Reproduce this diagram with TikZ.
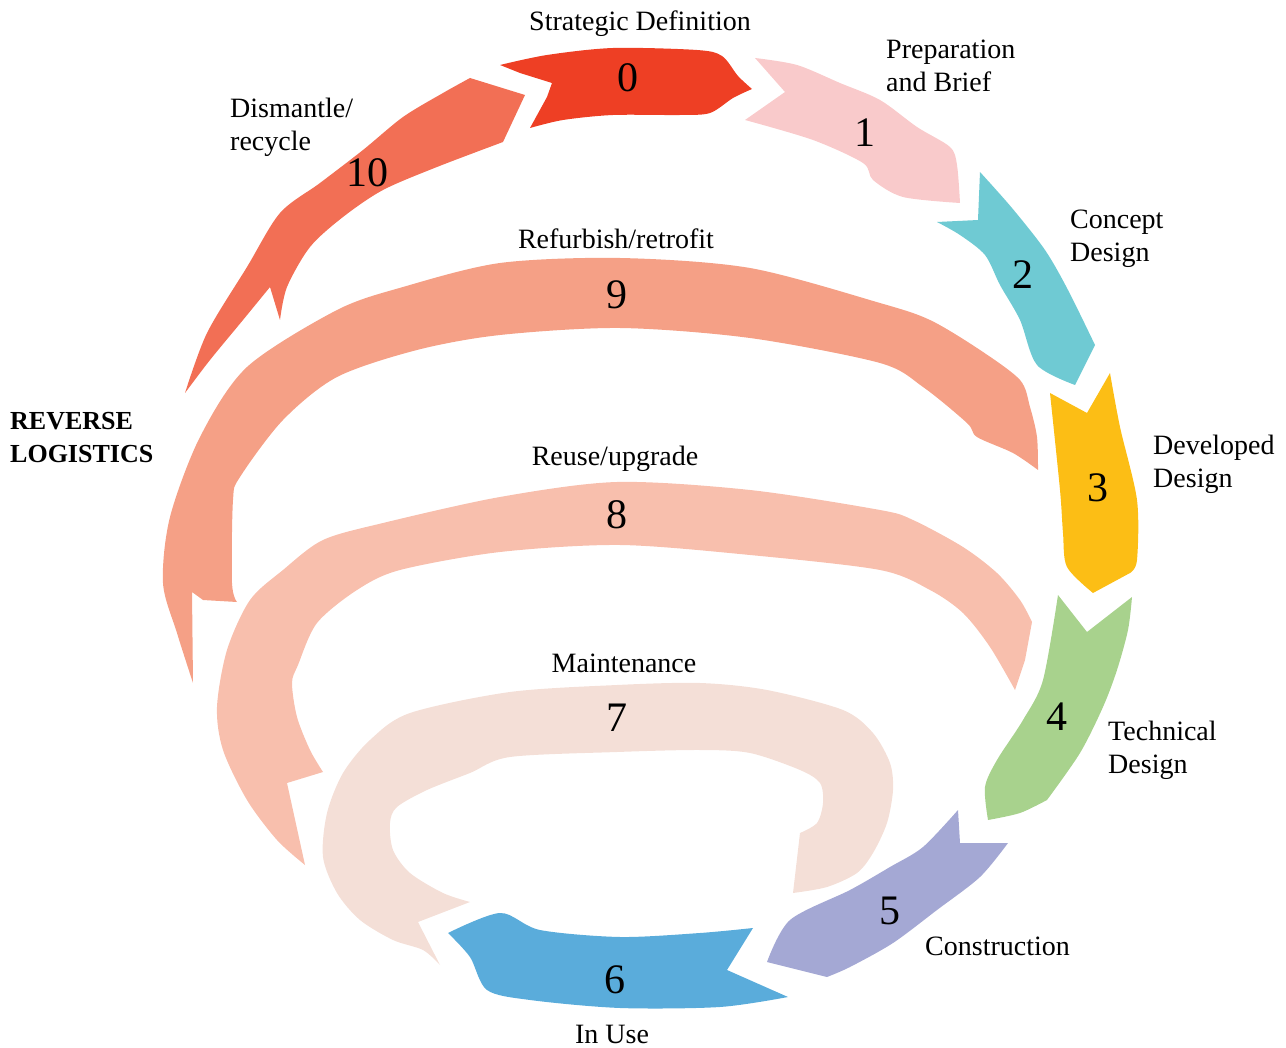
\documentclass[tikz,border=0pt]{standalone}
\usepackage{fontspec}
\setmainfont{Liberation Serif}
\definecolor{c0}{HTML}{EE3F24}
\definecolor{c1}{HTML}{F9CACB}
\definecolor{c2}{HTML}{6FCAD3}
\definecolor{c3}{HTML}{FCBE15}
\definecolor{c4}{HTML}{A8D28D}
\definecolor{c5}{HTML}{A4A8D4}
\definecolor{c6}{HTML}{5AACDB}
\definecolor{c7}{HTML}{F4DFD7}
\definecolor{c8}{HTML}{F8BFAD}
\definecolor{c9}{HTML}{F5A086}
\definecolor{c10}{HTML}{F26F55}
\begin{document}
\begin{tikzpicture}[x=1pt,y=-1pt,
  lbl/.style={font=\fontsize{28}{33}\selectfont, inner sep=0pt, align=left},
  num/.style={font=\fontsize{42}{42}\selectfont, inner sep=0pt},
  head/.style={font=\fontsize{26}{33}\selectfont\bfseries, inner sep=0pt, align=left},
  edge/.style={smooth, tension=0.5}]
\useasboundingbox (0,0) rectangle (1286,1048);

% stage 0: strategic definition
\fill[c0] plot[edge] coordinates {(500,65) (547,55) (613,48) (697,50) (722,56) (738,76) (752,89)}
  -- plot[edge] coordinates {(752,89) (733,98) (710,113) (680,115) (613,115) (563,120) (530,128)}
  -- (547,97) -- (552,83) -- (520,73) -- cycle;
% stage 1: preparation and brief
\fill[c1] plot[edge] coordinates {(755,58) (797,65) (840,83) (880,100) (917,127) (950,147) (957,165) (960,203)}
  -- plot[edge] coordinates {(960,203) (903,197) (873,180) (863,163) (813,140) (745,120)}
  -- (785,92) -- cycle;
% stage 2: concept design
\fill[c2] plot[edge] coordinates {(980,172) (1012,208) (1045,250) (1068,290) (1095,345)}
  -- (1075,385)
  -- plot[edge] coordinates {(1075,385) (1037,365) (1020,320) (1000,285) (985,255) (960,235) (937,222)}
  -- (978,220) -- cycle;
% stage 3: developed design
\fill[c3] (1050,393) -- (1087,413) -- (1110,373)
  -- plot[edge] coordinates {(1110,373) (1120,427) (1137,500) (1137,560) (1130,573)}
  -- (1093,593)
  -- plot[edge] coordinates {(1093,593) (1067,567) (1063,533) (1060,490) (1050,393)} -- cycle;
% stage 4: technical design
\fill[c4] (1058,595) -- (1087,632) -- (1132,597)
  -- plot[edge] coordinates {(1132,597) (1128,630) (1117,670) (1103,707) (1080,753) (1047,800)}
  -- plot[edge] coordinates {(1047,800) (1020,813) (988,820)}
  -- plot[edge] coordinates {(988,820) (985,787) (997,760) (1023,720) (1043,680) (1058,595)} -- cycle;
% stage 5: construction
\fill[c5] (958,810) -- (960,843) -- (1008,843)
  -- plot[edge] coordinates {(1008,843) (980,877) (937,910) (893,943) (850,967) (827,977)}
  -- (767,962)
  -- plot[edge] coordinates {(767,962) (790,920) (850,890) (890,867) (923,847) (958,810)} -- cycle;
% stage 6: in use
\fill[c6] plot[edge] coordinates {(448,933) (500,913) (540,930) (620,937) (700,933) (753,928)}
  -- (727,970) -- (788,997)
  -- plot[edge] coordinates {(788,997) (720,1007) (620,1008) (530,1000) (487,990) (470,957) (448,933)} -- cycle;
% stage 7: maintenance loop
\fill[c7] plot[edge] coordinates {(440,965) (423,950) (393,940) (360,920) (337,893) (323,857) (327,813)
    (343,773) (370,740) (410,713) (510,692) (617,685) (700,683) (767,690) (843,710) (873,733) (890,763)
    (893,790) (887,823) (873,853) (857,873) (827,887) (793,893)}
  -- (800,833)
  -- plot[edge] coordinates {(800,833) (817,823) (823,803) (820,783) (800,770) (750,753) (700,750)
    (617,752) (510,757) (470,773) (427,790) (397,807) (390,823) (393,850) (410,873) (443,893) (470,902)}
  -- (418,922) -- cycle;
% stage 8: reuse / upgrade loop
\fill[c8] plot[edge] coordinates {(305,865) (277,840) (247,800) (223,750) (217,707) (227,650) (250,600)
    (283,570) (323,540) (383,523) (500,497) (617,482) (750,490) (880,510) (913,520) (963,547) (997,573)
    (1020,600) (1032,622)}
  -- (1025,660) -- (1015,690)
  -- plot[edge] coordinates {(1015,690) (990,647) (963,613) (930,590) (880,570) (750,555) (620,545)
    (500,552) (400,570) (357,590) (317,623) (298,665) (292,683) (297,717) (310,750) (323,772)}
  -- (287,783) -- cycle;
% stage 9: refurbish / retrofit loop
\fill[c9] plot[edge] coordinates {(193,683) (177,633) (163,583) (170,517) (200,437) (247,367) (337,310)
    (403,287) (500,263) (620,258) (750,268) (880,303) (930,320) (980,350) (1020,380) (1030,407)
    (1037,437) (1038,470)}
  -- plot[edge] coordinates {(1038,470) (1013,453) (977,437) (967,423) (923,387) (880,363) (750,338)
    (620,328) (500,335) (417,350) (337,377) (283,420) (240,477) (233,500) (232,583) (237,602)}
  -- (203,600) -- (192,592) -- cycle;
% stage 10: dismantle / recycle
\fill[c10] (470,78) -- (525,95) -- (503,142)
  -- plot[edge] coordinates {(503,142) (437,167) (383,190) (343,217) (310,247) (287,287) (280,320)}
  -- (270,287)
  -- plot[edge] coordinates {(270,287) (243,320) (210,360) (185,393)}
  -- plot[edge] coordinates {(185,393) (207,333) (247,267) (280,213) (320,183) (363,150) (403,117)
    (443,93) (470,78)} -- cycle;

% stage numbers
\node[num] (n0) at (628,78) {0};
\node[num] (n1) at (865,133) {1};
\node[num] (n2) at (1023,275) {2};
\node[num] (n3) at (1098,488) {3};
\node[num] (n4) at (1057,717) {4};
\node[num] (n5) at (890,911) {5};
\node[num] (n6) at (615,980) {6};
\node[num] (n7) at (617,718) {7};
\node[num] (n8) at (617,515) {8};
\node[num] (n9) at (617,295) {9};
\node[num] (n10) at (367,173) {10};

% stage names
\node[lbl] (t0) at (640,24) {Strategic Definition};
\node[lbl, anchor=west] (t1) at (886,66) {Preparation\\and Brief};
\node[lbl, anchor=west] (t2) at (1070,239) {Concept\\Design};
\node[lbl, anchor=west] (t3) at (1153,464) {Developed\\Design};
\node[lbl, anchor=west] (t4) at (1108,750) {Technical\\Design};
\node[lbl, anchor=west] (t5) at (925,946) {Construction};
\node[lbl] (t6) at (612,1034) {In Use};
\node[lbl] (t7) at (624,663) {Maintenance};
\node[lbl] (t8) at (615,459) {Reuse/upgrade};
\node[lbl] (t9) at (616,239) {Refurbish/retrofit};
\node[lbl, anchor=west] (t10) at (230,127) {Dismantle/\\recycle};
\node[head, anchor=west] (rl) at (10,438) {REVERSE\\LOGISTICS};
\end{tikzpicture}
\end{document}
